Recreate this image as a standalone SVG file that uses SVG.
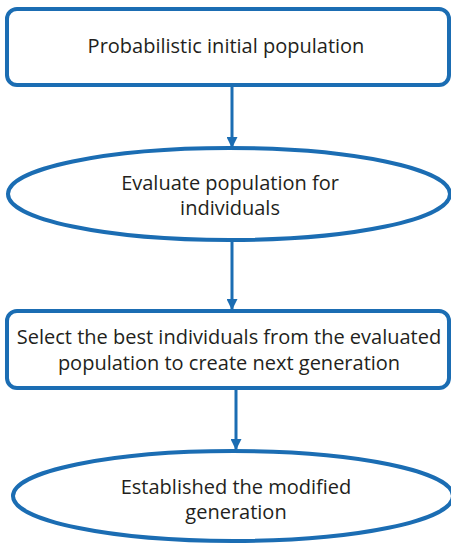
<svg xmlns="http://www.w3.org/2000/svg" width="451" height="545" viewBox="0 0 451 545">
  <style>
    .shape { fill: #ffffff; stroke: #1b6db3; stroke-width: 4; }
    .label { font-family: "Open Sans", "Noto Sans", sans-serif; font-size: 20px; fill: #231f20; text-anchor: middle; }
    .link { stroke: #1b6db3; stroke-width: 3; fill: none; }
  </style>
  <defs>
    <marker id="arrow" viewBox="0 0 10 10" refX="9" refY="5" markerWidth="11" markerHeight="11" orient="auto" markerUnits="userSpaceOnUse">
      <path d="M0,0 L10,5 L0,10 Z" fill="#1b6db3"/>
    </marker>
  </defs>
  <rect width="451" height="545" fill="#ffffff"/>

  <g id="connectors">
    <line class="link" x1="232" y1="86" x2="232" y2="147" marker-end="url(#arrow)"/>
    <line class="link" x1="232" y1="241" x2="232" y2="309" marker-end="url(#arrow)"/>
    <line class="link" x1="236" y1="389" x2="236" y2="449" marker-end="url(#arrow)"/>
  </g>

  <g id="initial-population">
    <rect class="shape" x="7" y="9" width="442" height="76" rx="10"/>
    <text class="label" x="226" y="53">Probabilistic initial population</text>
  </g>

  <g id="evaluate">
    <ellipse class="shape" cx="229" cy="194" rx="221" ry="46"/>
    <text class="label" x="230" y="190">Evaluate population for</text>
    <text class="label" x="230" y="215">individuals</text>
  </g>

  <g id="select">
    <rect class="shape" x="7" y="311" width="442" height="77" rx="10"/>
    <text class="label" x="229" y="344">Select the best individuals from the evaluated</text>
    <text class="label" x="229" y="370">population to create next generation</text>
  </g>

  <g id="established">
    <ellipse class="shape" cx="233" cy="496" rx="220" ry="45"/>
    <text class="label" x="236" y="494">Established the modified</text>
    <text class="label" x="236" y="519">generation</text>
  </g>
</svg>
